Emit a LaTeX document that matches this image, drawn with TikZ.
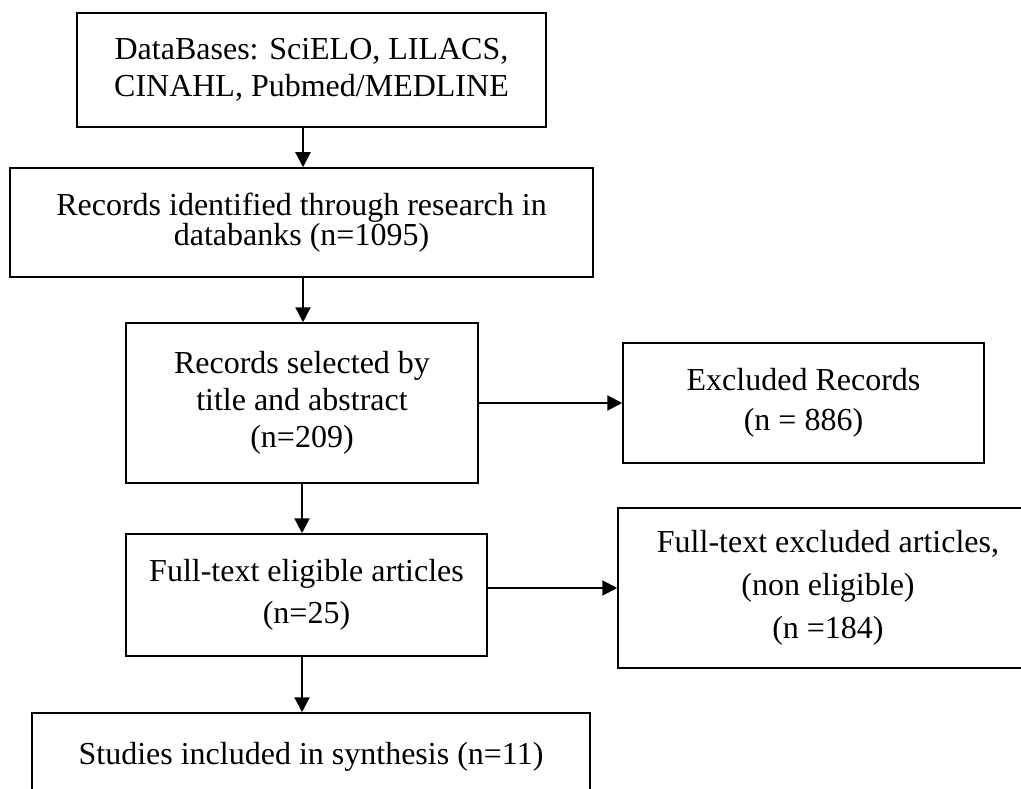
\documentclass[tikz,border=0pt]{standalone}
\usepackage{fontspec}
\setmainfont{Liberation Serif}
\usetikzlibrary{arrows.meta}
\begin{document}
\begin{tikzpicture}[x=1pt,y=-1pt,
  box/.style={draw, line width=1.5pt, rectangle, inner sep=0pt, align=center},
  arr/.style={line width=2.2pt, -{Triangle[length=15pt,width=15pt]}}]
\useasboundingbox (0,0) rectangle (1021,789);
\clip (0,0) rectangle (1021,789);
\node[box, minimum width=469pt, minimum height=114pt, font=\fontsize{32}{37}\selectfont] (b1) at (311.5,70)
  {DataBases: SciELO, LILACS,\\CINAHL, Pubmed/MEDLINE};
\node[box, minimum width=583pt, minimum height=109pt, font=\fontsize{32}{29.5}\selectfont] (b2) at (301.5,222.5)
  {Records identified through research in\\databanks (n=1095)};
\node[box, minimum width=352pt, minimum height=160pt, font=\fontsize{32}{37}\selectfont] (b3) at (302,403)
  {Records selected by\\title and abstract\\(n=209)};
\node[box, minimum width=361pt, minimum height=120pt, font=\fontsize{32}{40}\selectfont] (b4) at (803.5,403)
  {Excluded Records\\(n = 886)};
\node[box, minimum width=361pt, minimum height=122pt, font=\fontsize{32}{42}\selectfont] (b5) at (306.5,595)
  {Full-text eligible articles\\(n=25)};
\node[box, minimum width=420pt, minimum height=160pt, font=\fontsize{32}{43}\selectfont] (b6) at (828,588)
  {Full-text excluded articles,\\(non eligible)\\(n =184)};
\node[box, minimum width=558pt, minimum height=87pt, font=\fontsize{32}{37}\selectfont] (b7) at (311,756.5)
  {Studies included in synthesis (n=11)};
\draw[arr] ([xshift=-8.5pt]b1.south) -- ([xshift=-8.5pt]b1.south |- b2.north);
\draw[arr] ([xshift=1.5pt]b2.south) -- ([xshift=1.5pt]b2.south |- b3.north);
\draw[arr] (b3.south) -- (b3.south |- b5.north);
\draw[arr] ([xshift=-4.5pt]b5.south) -- ([xshift=-4.5pt]b5.south |- b7.north);
\draw[arr] (b3.east) -- (b3.east -| b4.west);
\draw[arr] (b6.west -| b5.east) -- (b6.west);
\end{tikzpicture}
\end{document}
